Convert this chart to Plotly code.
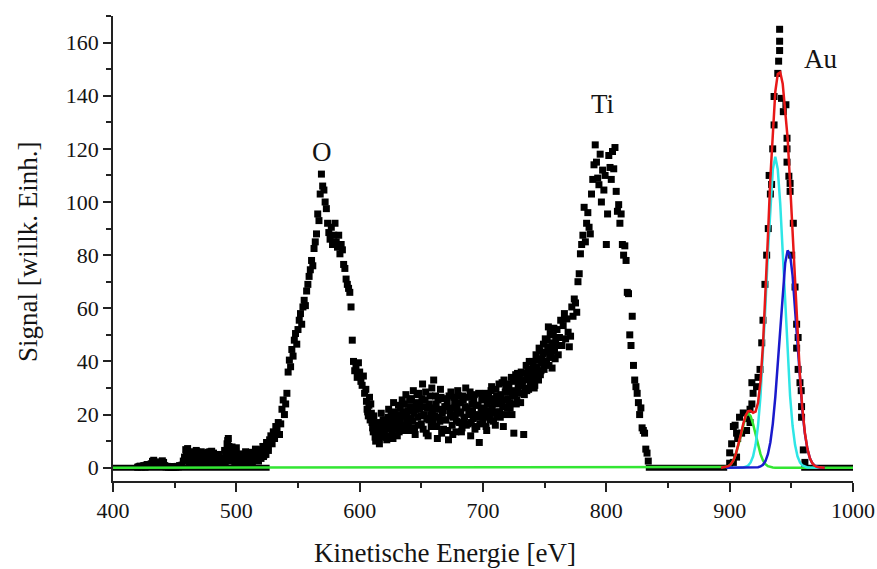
import plotly.graph_objects as go

# ---------------- data ----------------
# measured spectrum, 1 eV grid from 420 to 834 eV
scan_x = list(range(420, 835))
scan_y = [
    0.2, 0.4, 0.6, 0.3, 0.5, 0.8, 0.2, 1.0, 1.2, 0.5,          # 420
    0.9, 1.5, 2.4, 2.8, 1.2, 0.6, 1.0, 2.2, 1.4, 0.5,          # 430
    2.6, 2.0, 0.8, 0.3, 0.5, 0.2, 0.4, 0.1, 0.3, 0.2,          # 440
    0.4, 0.2, 0.5, 0.3, 0.8, 0.6, 1.0, 2.5, 4.0, 6.8,          # 450
    5.5, 3.2, 2.0, 4.5, 5.8, 3.0, 1.5, 4.2, 6.0, 3.5,          # 460
    2.2, 4.8, 3.0, 1.8, 5.2, 2.5, 4.0, 5.8, 3.2, 2.0,          # 470
    6.2, 4.5, 1.5, 3.8, 2.6, 1.2, 3.5, 2.8, 1.0, 2.2,          # 480
    3.0, 1.5, 5.5, 10.2, 8.0, 4.0, 2.5, 6.2, 3.0, 1.8,         # 490
    7.5, 3.5, 1.0, 2.8, 4.5, 2.0, 0.8, 3.2, 5.0, 2.5,          # 500
    1.2, 3.8, 4.5, 2.0, 5.5, 3.0, 6.5, 4.0, 2.5, 5.8,          # 510
    3.5, 6.0, 4.2, 7.2, 5.0, 8.5, 6.5, 10.5, 12.0, 9.0,        # 520
    13.5, 11.0, 15.5, 14.0, 17.0, 12.5, 16.5, 22.0, 25.5, 20.0,  # 530
    24.0, 28.0, 36.0, 40.5, 38.0, 44.5, 42.0, 48.0, 50.5, 46.5,  # 540
    52.0, 55.5, 58.0, 54.0, 60.5, 63.0, 61.0, 66.5, 69.0, 72.0,  # 550
    74.5, 78.0, 76.0, 82.5, 85.0, 88.0, 95.5, 93.0, 103.0, 110.5,  # 560
    106.0, 104.5, 100.0, 97.5, 92.0, 88.5, 86.0, 90.5, 84.0, 87.5,  # 570
    92.0, 85.0, 83.0, 87.5, 80.5, 84.0, 82.0, 76.5, 75.0, 71.0,  # 580
    69.0, 67.5, 66.0, 60.5, 48.0, 40.0, 36.5, 38.0, 34.0, 39.5,  # 590
    36.0, 32.5, 31.0, 34.5, 28.0, 29.5, 22.0, 19.5, 26.5, 24.0,  # 600
    17.0, 13.5, 16.0, 10.0, 12.5, 15.0, 9.0, 14.0, 11.5, 18.0,   # 610
    13.0, 16.5, 10.5, 19.0, 12.0, 15.5, 18.5, 11.0, 21.0, 14.5,  # 620
    17.5, 20.0, 13.5, 22.5, 16.0, 19.5, 24.0, 15.0, 18.0, 21.5,  # 630
    14.0, 23.0, 26.0, 17.5, 20.5, 12.5, 24.5, 19.0, 28.0, 22.0,  # 640
    16.5, 31.5, 20.0, 25.5, 13.0, 22.5, 18.0, 27.0, 15.5, 21.0,  # 650
    33.0, 19.5, 24.0, 11.0, 22.0, 17.5, 26.5, 20.5, 14.5, 23.0,  # 660
    18.0, 25.0, 10.5, 21.5, 28.5, 16.0, 19.0, 24.5, 13.5, 22.0,  # 670
    27.0, 17.0, 20.5, 15.0, 25.5, 19.0, 30.0, 22.5, 16.5, 21.0,  # 680
    12.0, 24.0, 18.5, 27.5, 20.0, 15.5, 23.5, 9.5, 19.5, 26.0,   # 690
    17.5, 22.0, 28.0, 14.0, 21.5, 25.0, 18.0, 30.5, 20.5, 24.5,  # 700
    16.0, 27.0, 21.0, 31.5, 19.0, 25.0, 23.0, 33.0, 28.5, 20.0,  # 710
    26.0, 30.5, 22.5, 34.0, 27.5, 13.0, 29.0, 24.0, 35.5, 31.0,  # 720
    28.0, 36.0, 32.5, 12.5, 30.0, 38.5, 34.0, 29.5, 37.0, 33.5,  # 730
    40.0, 35.5, 31.0, 42.5, 38.0, 33.0, 44.0, 36.5, 41.0, 46.5,  # 740
    39.0, 43.5, 48.0, 53.0, 41.5, 45.0, 37.5, 50.0, 44.0, 47.5,  # 750
    52.0, 42.5, 49.0, 55.5, 46.0, 53.5, 58.0, 48.5, 56.0, 51.0,  # 760
    45.5, 49.5, 60.5, 57.0, 63.5, 62.0, 58.5, 70.0, 73.0, 80.5,  # 770
    84.0, 87.5, 98.0, 85.0, 92.0, 96.0, 90.5, 88.0, 103.0, 108.5,  # 780
    114.0, 121.5, 115.0, 109.0, 106.5, 118.0, 100.0, 112.0, 104.5, 110.0,  # 790
    84.0, 95.5, 117.5, 113.0, 108.5, 119.0, 112.5, 120.5, 104.0, 96.5,  # 800
    99.0, 92.0, 95.5, 84.0, 80.0, 83.5, 78.0, 66.0, 65.5, 50.0,  # 810
    46.0, 57.0, 38.5, 33.0, 30.5, 28.0, 24.5, 20.0, 22.5, 15.0,  # 820
    14.0, 13.0, 7.0, 5.5, 2.5,                                  # 830
]

# additional half-eV readings in the dense regions
scan2_x = [v + 0.5 for v in range(458, 526)] + [v + 0.5 for v in range(605, 760)]
scan2_y = [
    3.0, 5.0, 7.2, 4.0, 2.5, 6.0, 3.8, 2.0, 5.0, 6.5,          # 458.5
    2.8, 4.5, 3.5, 6.0, 2.0, 4.2, 5.5, 3.0, 1.8, 4.8,          # 468.5
    6.0, 3.5, 2.2, 5.5, 4.0, 1.5, 2.8, 5.0, 3.2, 2.0,          # 478.5
    3.8, 2.0, 6.5, 4.5, 9.0, 11.0, 5.5, 3.0, 7.8, 4.5,         # 488.5
    2.5, 6.0, 4.0, 2.0, 1.5, 3.8, 5.2, 2.8, 4.0, 6.0,          # 498.5
    3.0, 1.8, 4.5, 2.5, 5.8, 3.5, 4.8, 7.0, 3.2, 5.0,          # 508.5
    6.8, 4.2, 5.5, 8.0, 4.8, 6.5, 9.5, 7.5,                    # 518.5
    25.0, 21.0, 23.5, 18.0, 20.5,                              # 605.5
    15.0, 19.5, 11.5, 14.5, 17.0, 10.5, 13.0, 20.5, 16.5, 12.0,  # 610.5
    18.0, 11.5, 14.5, 22.0, 16.5, 20.0, 13.0, 24.5, 17.0, 19.5,  # 620.5
    12.0, 23.5, 18.5, 15.5, 25.5, 21.0, 14.0, 27.5, 19.0, 16.5,  # 630.5
    25.5, 18.5, 21.5, 29.0, 15.0, 22.0, 27.5, 16.0, 23.5, 19.5,  # 640.5
    26.0, 14.5, 23.0, 28.5, 18.5, 12.0, 24.0, 20.0, 30.0, 17.5,  # 650.5
    22.5, 27.0, 15.5, 25.5, 19.0, 29.5, 13.0, 21.5, 26.0, 18.0,  # 660.5
    23.0, 14.0, 27.0, 19.5, 22.5, 12.5, 26.5, 20.0, 17.5, 29.0,  # 670.5
    21.0, 24.5, 13.5, 27.0, 18.5, 23.0, 16.0, 26.5, 20.0, 28.5,  # 680.5
    17.0, 21.5, 25.0, 14.5, 23.5, 19.0, 28.0, 16.5, 22.5, 20.5,  # 690.5
    25.5, 19.0, 15.5, 24.0, 27.5, 20.0, 29.0, 22.5, 17.5, 26.0,  # 700.5
    29.5, 19.5, 24.0, 21.0, 27.5, 32.0, 15.5, 25.5, 30.0, 22.5,  # 710.5
    31.5, 24.5, 28.5, 20.0, 32.5, 27.0, 35.0, 25.5, 30.0, 33.5,  # 720.5
    24.5, 31.0, 35.5, 27.5, 33.0, 29.0, 36.5, 40.0, 31.5, 35.0,  # 730.5
    38.0, 30.0, 36.5, 33.5, 40.5, 45.0, 35.0, 39.5, 43.0, 37.0,  # 740.5
    48.5, 40.0, 45.5, 38.5, 50.5, 43.0, 47.0, 52.5, 41.0, 46.0,  # 750.5
]

# measured points in the Au region
au_x = [900, 900, 901.6, 903, 903, 904.4, 905.6, 905.6, 906.5, 908, 909.7, 911,
        913.7, 914.5, 916.5, 916.5, 918, 919, 918, 921.8, 923, 924.6, 926, 927,
        928.6, 930, 931.3, 933, 932, 934, 934.9, 936, 936, 939, 939.7, 940.5,
        940.5, 940.5, 942, 943.5, 945.6, 946.5, 946.5, 946.5, 948, 949, 949,
        951.6, 950.3, 953, 954.3, 955.5, 954.3, 955.5, 957, 958, 958.3, 958.3,
        959.7, 961]
au_y = [1.7, 5.6, 9, 2, 15.5, 16, 4, 13, 11, 19, 13, 20.6,
        14, 18.5, 17, 22, 24, 28, 32, 30.5, 34, 37, 47, 55.5,
        69, 80, 90, 103, 110, 106.6, 120, 129, 139.7, 148.4, 153, 157,
        160.5, 165, 139, 134, 136.6, 124, 120, 115, 109.7, 107, 104,
        92, 80, 68, 54, 49, 45, 37, 32, 29, 23, 19,
        6.7, 2]

# zero-signal segments of the spectrum
base_x = [400, 527, None, 832, 898, None, 958, 1000]
base_y = [0, 0, None, 0, 0, None, 0, 0]

# fit components
green_x = [400, 891, 893, 895, 897, 899, 901, 903, 905, 907, 909, 911, 913, 915,
           917, 919, 921, 923, 925, 927, 929, 931, 933, 935, 937, 939, 1000]
green_y = [0, 0, 0.02, 0.08, 0.23, 0.58, 1.35, 2.77, 5.1, 8.4, 12.4, 16.4, 19.4, 20.5,
           19.4, 16.4, 12.4, 8.4, 5.1, 2.77, 1.35, 0.58, 0.23, 0.08, 0.02, 0, 0]

cyan_x = [897, 907, 909, 911, 913, 915, 917, 919, 921, 923, 925, 927, 929, 931, 933,
          935, 937, 939, 941, 943, 945, 947, 949, 951, 953, 955, 957, 959, 961, 963,
          965, 967, 975]
cyan_y = [0, 0, 0.04, 0.12, 0.33, 0.84, 1.98, 4.3, 8.6, 15.8, 26.9, 42.2, 60.9, 81.0, 99.4,
          112.3, 117, 112.3, 99.4, 81.0, 60.9, 42.2, 26.9, 15.8, 8.6, 4.3, 1.98, 0.84, 0.33, 0.12,
          0.04, 0, 0]

blue_x = [897, 917, 919, 921, 923, 925, 927, 929, 931, 933, 935, 937, 939, 941, 943,
          945, 947, 949, 951, 953, 955, 957, 959, 961, 963, 965, 967, 969, 971, 973, 977]
blue_y = [0, 0, 0.02, 0.06, 0.18, 0.47, 1.12, 2.5, 5.1, 9.6, 16.6, 26.6, 39.2, 53.3, 66.7,
          76.9, 81.8, 80.1, 72.4, 60.2, 46.2, 32.6, 21.3, 12.8, 7.1, 3.6, 1.7, 0.73, 0.29, 0.11, 0]

red_x = [893, 897, 899, 901, 903, 905, 907, 909, 911, 913, 915, 917, 919, 921, 923,
         925, 927, 929, 931, 933, 935, 937, 939, 941, 943, 945, 947, 949, 951, 953,
         955, 957, 959, 961, 963, 965, 967, 969, 971, 973, 977]
red_y = [0, 0.23, 0.58, 1.35, 2.77, 5.1, 8.4, 12.4, 16.5, 19.7, 21.3, 21.4, 20.7, 21.1, 24.4,
         32.5, 46.1, 64.8, 86.7, 109.2, 128.0, 141.5, 148.2, 148.8, 144.5, 135.5, 124.0, 107.0, 88.2, 68.8,
         50.5, 34.6, 22.1, 13.1, 7.2, 3.6, 1.7, 0.73, 0.29, 0.11, 0]

peak_labels = ["O", "Ti", "Au"]
peak_label_x = [569.5, 797, 974]
peak_label_y = [119, 137, 154]

x_ticks = [400, 500, 600, 700, 800, 900, 1000]
y_ticks = [0, 20, 40, 60, 80, 100, 120, 140, 160]

x_title = "Kinetische Energie [eV]"
y_title = "Signal [willk. Einh.]"

FONT = "Liberation Serif, Times New Roman, serif"
TXT = "#141414"

# ---------------- figure ----------------
fig = go.Figure()

fig.add_trace(go.Scatter(
    x=scan_x + scan2_x + au_x, y=scan_y + scan2_y + au_y, mode="markers",
    marker=dict(symbol="square", size=7, color="black", line=dict(width=0)),
    hoverinfo="skip"))

fig.add_trace(go.Scatter(x=base_x, y=base_y, mode="lines",
                         line=dict(color="black", width=6), connectgaps=False))

fig.add_trace(go.Scatter(x=green_x, y=green_y, mode="lines",
                         line=dict(color="#33e633", width=2.5)))
fig.add_trace(go.Scatter(x=cyan_x, y=cyan_y, mode="lines",
                         line=dict(color="#2ee6e6", width=2.5)))
fig.add_trace(go.Scatter(x=blue_x, y=blue_y, mode="lines",
                         line=dict(color="#1a1acc", width=2.5)))
fig.add_trace(go.Scatter(x=red_x, y=red_y, mode="lines",
                         line=dict(color="#e81818", width=2.5)))

for t, xx, yy in zip(peak_labels, peak_label_x, peak_label_y):
    fig.add_annotation(x=xx, y=yy, text=t, showarrow=False,
                       font=dict(family=FONT, size=27, color=TXT))

# axis titles (placed as in the original figure)
fig.add_annotation(xref="paper", yref="paper", x=0.4486, y=-0.155,
                   xanchor="center", yanchor="middle", showarrow=False,
                   text=x_title, font=dict(family=FONT, size=27, color=TXT))
fig.add_annotation(xref="paper", yref="paper", x=-0.1149, y=0.4925,
                   xanchor="center", yanchor="middle", showarrow=False, textangle=-90,
                   text=y_title, font=dict(family=FONT, size=27, color=TXT))

fig.update_layout(
    width=877, height=569,
    margin=dict(l=113, r=24, t=16, b=88),
    paper_bgcolor="white", plot_bgcolor="white",
    showlegend=False,
    font=dict(family=FONT, color=TXT),
)

fig.update_xaxes(
    range=[400, 1000], tickvals=x_ticks, ticks="outside", ticklen=9, tickwidth=1.5,
    tickcolor="#222", showline=True, linecolor="#222", linewidth=1.5,
    showgrid=False, zeroline=False, automargin=False,
    minor=dict(ticks="outside", ticklen=5, tickwidth=1.5, tickcolor="#222", dtick=50, tick0=400),
    tickfont=dict(family=FONT, size=22, color=TXT),
)
fig.update_yaxes(
    range=[-5, 170], tickvals=y_ticks, ticks="outside", ticklen=8, tickwidth=1.5,
    tickcolor="#222", showline=True, linecolor="#222", linewidth=1.5,
    showgrid=False, zeroline=False, automargin=False,
    minor=dict(ticks="outside", ticklen=5, tickwidth=1.5, tickcolor="#222", dtick=10, tick0=0),
    tickfont=dict(family=FONT, size=22, color=TXT),
)

fig.write_html("out.html")
